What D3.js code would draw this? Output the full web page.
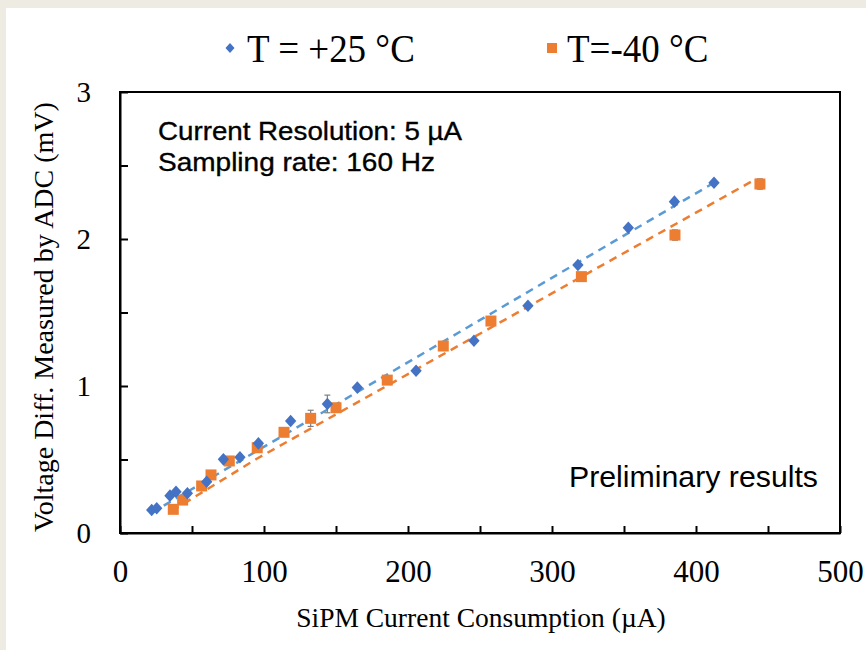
<!DOCTYPE html>
<html>
<head>
<meta charset="utf-8">
<script src="https://cdn.jsdelivr.net/npm/d3@7"></script>
<style>
  html, body { margin: 0; padding: 0; background: #EEEBE3; }
  svg { display: block; }
</style>
</head>
<body>
<svg id="chart" width="866" height="650"></svg>
<script>
// ---------------- data ----------------
const seriesNames = ["T = +25 °C", "T=-40 °C"];

const warmX = [22.0, 25.5, 34.7, 38.9, 46.8, 60.2, 71.8, 83.3, 96.1, 118.5, 144.0, 164.8, 205.6, 245.8, 283.3, 318.0, 353.0, 385.0, 412.5];
const warmY = [0.156, 0.168, 0.254, 0.281, 0.270, 0.349, 0.501, 0.515, 0.610, 0.762, 0.878, 0.989, 1.104, 1.308, 1.546, 1.823, 2.077, 2.254, 2.383];
const warmErr = [0, 0, 0, 0, 0, 0, 0, 0, 0, 0, 0.06, 0, 0, 0, 0, 0, 0, 0, 0];

const coldX = [37.0, 43.5, 56.7, 63.2, 75.9, 95.3, 113.9, 132.4, 150.0, 185.6, 224.5, 257.6, 320.4, 385.4, 444.4];
const coldY = [0.161, 0.224, 0.320, 0.395, 0.490, 0.580, 0.685, 0.780, 0.852, 1.040, 1.272, 1.442, 1.744, 2.027, 2.374];
const coldErr = [0, 0, 0, 0, 0, 0, 0, 0.055, 0, 0, 0, 0, 0, 0.035, 0.035];

// dashed trend lines
const warmTrendX = [22, 412];
const warmTrendY = [0.138, 2.38];
const coldTrendX = [36, 95, 442];
const coldTrendY = [0.15, 0.505, 2.41];

const xTicks = [0, 50, 100, 150, 200, 250, 300, 350, 400, 450, 500];
const xTickLabels = ["0", "", "100", "", "200", "", "300", "", "400", "", "500"];
const yTicks = [0, 0.5, 1, 1.5, 2, 2.5, 3];
const yTickLabels = ["0", "", "1", "", "2", "", "3"];

const xTitle = "SiPM Current Consumption (µA)";
const yTitle = "Voltage Diff. Measured by ADC (mV)";
const noteLines = ["Current Resolution: 5 µA", "Sampling rate: 160 Hz"];
const noteBR = "Preliminary results";

// ---------------- layout ----------------
const svg = d3.select("#chart");
const W = 866, H = 650;
const plot = { left: 120, right: 840, top: 92, bottom: 533 };

const blueMarker = "#4472C4", blueLine = "#5B9BD5", orange = "#ED7D31";

// white panel
svg.append("rect").attr("x", 6).attr("y", 8).attr("width", W - 6).attr("height", H - 8).attr("fill", "#ffffff");

const x = d3.scaleLinear().domain([0, 500]).range([plot.left, plot.right]);
const y = d3.scaleLinear().domain([0, 3]).range([plot.bottom, plot.top]);

// frame
svg.append("rect")
  .attr("x", plot.left).attr("y", plot.top)
  .attr("width", plot.right - plot.left).attr("height", plot.bottom - plot.top)
  .attr("fill", "none").attr("stroke", "#000").attr("stroke-width", 2);

// axes
const serif = "'Liberation Serif', 'Times New Roman', serif";
const xAxis = svg.append("g").attr("transform", `translate(0,${plot.bottom})`)
  .call(d3.axisBottom(x).tickValues(xTicks).tickSizeInner(-7).tickSizeOuter(0).tickPadding(0)
    .tickFormat((d, i) => xTickLabels[i]));
xAxis.select(".domain").attr("stroke", "#000").attr("stroke-width", 2);
xAxis.selectAll(".tick line").attr("stroke", "#000").attr("stroke-width", 2);
xAxis.selectAll(".tick text").attr("font-family", serif).attr("font-size", 31).attr("fill", "#000")
  .attr("dy", null).attr("y", 49);

const yAxis = svg.append("g").attr("transform", `translate(${plot.left},0)`)
  .call(d3.axisLeft(y).tickValues(yTicks).tickSizeInner(-8).tickSizeOuter(0).tickPadding(0)
    .tickFormat((d, i) => yTickLabels[i]));
yAxis.select(".domain").attr("stroke", "#000").attr("stroke-width", 2);
yAxis.selectAll(".tick line").attr("stroke", "#000").attr("stroke-width", 2);
yAxis.selectAll(".tick text").attr("font-family", serif).attr("font-size", 29).attr("fill", "#000")
  .attr("x", -29).attr("dy", "0.34em");

// axis titles
svg.append("text").attr("x", 481).attr("y", 627)
  .attr("text-anchor", "middle").attr("font-family", serif).attr("font-size", 27.5).attr("fill", "#000")
  .text(xTitle);
svg.append("text").attr("transform", `translate(53,${317}) rotate(-90)`)
  .attr("text-anchor", "middle").attr("font-family", serif).attr("font-size", 28).attr("fill", "#000")
  .text(yTitle);

// trend lines
const line = d3.line().x(d => x(d[0])).y(d => y(d[1]));
svg.append("path").datum(d3.zip(warmTrendX, warmTrendY)).attr("d", line)
  .attr("fill", "none").attr("stroke", blueLine).attr("stroke-width", 2.5).attr("stroke-dasharray", "8,6");
svg.append("path").datum(d3.zip(coldTrendX, coldTrendY)).attr("d", line)
  .attr("fill", "none").attr("stroke", orange).attr("stroke-width", 2.5).attr("stroke-dasharray", "8,6");

// error bars
function errBars(xs, ys, es) {
  const data = d3.zip(xs, ys, es).filter(d => d[2] > 0);
  const g = svg.append("g").attr("stroke", "#7f7f7f").attr("stroke-width", 1.2);
  g.selectAll("line.v").data(data).join("line")
    .attr("x1", d => x(d[0])).attr("x2", d => x(d[0]))
    .attr("y1", d => y(d[1] - d[2])).attr("y2", d => y(d[1] + d[2]));
  g.selectAll("line.t").data(data).join("line")
    .attr("x1", d => x(d[0]) - 3).attr("x2", d => x(d[0]) + 3)
    .attr("y1", d => y(d[1] + d[2])).attr("y2", d => y(d[1] + d[2]));
  g.selectAll("line.b").data(data).join("line")
    .attr("x1", d => x(d[0]) - 3).attr("x2", d => x(d[0]) + 3)
    .attr("y1", d => y(d[1] - d[2])).attr("y2", d => y(d[1] - d[2]));
}
errBars(coldX, coldY, coldErr);
errBars(warmX, warmY, warmErr);

// markers
const diamond = (cx, cy, r) => `M${cx},${cy - r}L${cx + r * 0.9},${cy}L${cx},${cy + r}L${cx - r * 0.9},${cy}Z`;
svg.append("g").selectAll("rect").data(d3.zip(coldX, coldY)).join("rect")
  .attr("x", d => x(d[0]) - 5.5).attr("y", d => y(d[1]) - 5.5)
  .attr("width", 11).attr("height", 11).attr("fill", orange);
svg.append("g").selectAll("path").data(d3.zip(warmX, warmY)).join("path")
  .attr("d", d => diamond(x(d[0]), y(d[1]), 6.3)).attr("fill", blueMarker);

// legend
const lg = svg.append("g");
lg.append("path").attr("d", diamond(230, 48, 5)).attr("fill", blueMarker);
lg.append("text").attr("transform", "translate(247,62) scale(1,1.1)").attr("font-family", serif).attr("font-size", 37)
  .attr("fill", "#000").text(seriesNames[0]);
lg.append("rect").attr("x", 547).attr("y", 43).attr("width", 10).attr("height", 10).attr("fill", orange);
lg.append("text").attr("transform", "translate(567,62) scale(1,1.1)").attr("font-family", serif).attr("font-size", 37)
  .attr("fill", "#000").text(seriesNames[1]);

// annotations
const sans = "'Liberation Sans', Arial, sans-serif";
svg.append("text").attr("x", 158).attr("y", 140).attr("font-family", sans).attr("font-size", 25.5)
  .attr("fill", "#000").attr("stroke", "#000").attr("stroke-width", 0.35)
  .attr("textLength", 304).attr("lengthAdjust", "spacingAndGlyphs").text(noteLines[0]);
svg.append("text").attr("x", 158).attr("y", 171).attr("font-family", sans).attr("font-size", 25.5)
  .attr("fill", "#000").attr("stroke", "#000").attr("stroke-width", 0.35)
  .attr("textLength", 277).attr("lengthAdjust", "spacingAndGlyphs").text(noteLines[1]);
svg.append("text").attr("x", 569).attr("y", 487).attr("font-family", sans).attr("font-size", 29)
  .attr("fill", "#000").attr("textLength", 249).attr("lengthAdjust", "spacingAndGlyphs").text(noteBR);
</script>
</body>
</html>
